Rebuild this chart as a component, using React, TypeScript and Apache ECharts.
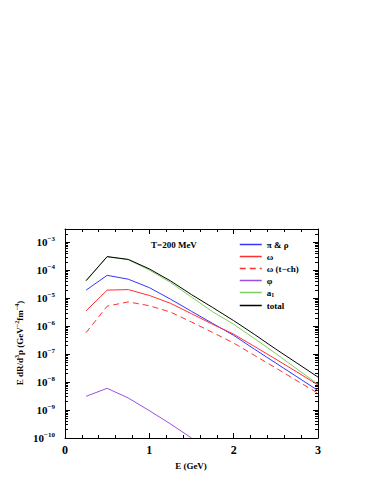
import React, { useEffect, useRef } from "react";
import * as echarts from "echarts";

const energies = [0.25, 0.5, 0.75, 1.0, 1.25, 1.5, 1.75, 2.0, 2.25, 2.5, 2.75, 3.0];
const piRho = [1.95e-5, 6.6e-5, 4.8e-5, 2.4e-5, 9.3e-6, 3.4e-6, 1.26e-6, 4.7e-7, 1.48e-7, 4.8e-8, 1.55e-8, 5.0e-9];
const omega = [3.55e-6, 1.95e-5, 2.04e-5, 1.26e-5, 6.6e-6, 2.8e-6, 1.17e-6, 5.2e-7, 1.86e-7, 6.6e-8, 2.3e-8, 7.9e-9];
const omegaT = [5.9e-7, 5.2e-6, 7.4e-6, 5.4e-6, 3.2e-6, 1.41e-6, 6.0e-7, 2.5e-7, 8.9e-8, 3.2e-8, 1.12e-8, 4.0e-9];
const phiE = [0.25, 0.5, 0.75, 1.0, 1.25, 1.5];
const phi = [3.1e-9, 6.0e-9, 2.7e-9, 9.5e-10, 3.2e-10, 1.0e-10];
const a1 = [4.17e-5, 3.02e-4, 2.4e-4, 1.02e-4, 3.7e-5, 1.1e-5, 3.3e-6, 1.17e-6, 3.55e-7, 1.05e-7, 2.95e-8, 8.3e-9];
const total = [4.27e-5, 3.09e-4, 2.45e-4, 1.12e-4, 4.2e-5, 1.35e-5, 4.68e-6, 1.58e-6, 5.0e-7, 1.51e-7, 4.79e-8, 1.51e-8];

const seriesNames = ["π & ρ", "ω", "ω (t−ch)", "φ", "a1", "total"];
const yDecades = [-10, -9, -8, -7, -6, -5, -4, -3];

const SERIF = "'Liberation Serif', 'DejaVu Serif', serif";

export default function App() {
  const ref = useRef<HTMLDivElement>(null);
  useEffect(() => {
    if (!ref.current) return;
    const chart = echarts.init(ref.current, undefined, { renderer: "svg" });
    const majorVals = yDecades.map((e) => Math.pow(10, e));
    const minorVals: number[] = [];
    yDecades.forEach((e) => {
      for (let k = 2; k <= 9; k++) {
        const v = k * Math.pow(10, e);
        if (v <= 3.001e-3) minorVals.push(v);
      }
    });
    const pair = (xs: number[], ys: number[]) => xs.map((x, i) => [x, ys[i]]);
    const yMin = 1e-10;
    const yMax = 3e-3;
    const baseY = (pos: "left" | "right", labels: boolean) => ({
      type: "log" as const,
      logBase: 10,
      min: yMin,
      max: yMax,
      position: pos,
      axisLine: { show: true, lineStyle: { color: "#000", width: 1 } },
      axisTick: { show: true, inside: true, length: 5, customValues: majorVals, lineStyle: { color: "#000" } },
      axisLabel: labels
        ? {
            show: true,
            customValues: majorVals,
            margin: 10,
            formatter: (v: number) => {
              const e = Math.round(Math.log10(v));
              return "{b|10}{e|" + (e < 0 ? "−" + -e : String(e)) + "}";
            },
            rich: {
              b: { fontFamily: SERIF, fontWeight: "bold", fontSize: 11, color: "#000", lineHeight: 14 },
              e: { fontFamily: SERIF, fontWeight: "bold", fontSize: 7, color: "#000", lineHeight: 8, verticalAlign: "top" },
            },
          }
        : { show: false },
      splitLine: { show: false },
      minorTick: { show: false },
    });
    const minorY = (pos: "left" | "right") => ({
      type: "log" as const,
      logBase: 10,
      min: yMin,
      max: yMax,
      position: pos,
      axisLine: { show: false },
      axisTick: { show: true, inside: true, length: 3, customValues: minorVals, lineStyle: { color: "#000" } },
      axisLabel: { show: false },
      splitLine: { show: false },
    });
    const baseX = (pos: "bottom" | "top", labels: boolean) => ({
      type: "value" as const,
      min: 0,
      max: 3,
      interval: 1,
      position: pos,
      axisLine: { show: true, onZero: false, lineStyle: { color: "#000", width: 1 } },
      axisTick: { show: true, inside: true, length: 5, lineStyle: { color: "#000" } },
      minorTick: { show: true, splitNumber: 5, length: 3, lineStyle: { color: "#000" } },
      axisLabel: labels
        ? { show: true, margin: 6, fontFamily: SERIF, fontWeight: "bold", fontSize: 12, color: "#000" }
        : { show: false },
      splitLine: { show: false },
    });
    const line = (name: string, data: number[][], color: string, dashed = false) => ({
      name,
      type: "line" as const,
      data,
      symbol: "none",
      xAxisIndex: 0,
      yAxisIndex: 0,
      lineStyle: { color, width: 1, type: dashed ? ([6, 4] as any) : "solid" },
      itemStyle: { color },
      clip: true,
    });
    chart.setOption({
      animation: false,
      backgroundColor: "#fff",
      grid: { left: 65, right: 65, top: 229, bottom: 57, containLabel: false },
      xAxis: [baseX("bottom", true), baseX("top", false)],
      yAxis: [baseY("left", true), minorY("left"), baseY("right", false), minorY("right")],
      legend: {
        orient: "vertical",
        left: 239,
        top: 240,
        itemWidth: 22,
        itemHeight: 8,
        itemGap: 3,
        padding: 0,
        data: seriesNames,
        lineStyle: { width: 1.5 },
        itemStyle: { opacity: 0, color: "transparent", borderWidth: 0 },
        formatter: (n: string) => (n === "a1" ? "{t|a}{s|1}" : "{t|" + n + "}"),
        textStyle: {
          rich: {
            t: { fontFamily: SERIF, fontWeight: "bold", fontSize: 9, color: "#000", lineHeight: 11 },
            s: { fontFamily: SERIF, fontWeight: "bold", fontSize: 6, color: "#000", lineHeight: 6, verticalAlign: "bottom" },
          },
        },
      },
      graphic: [
        {
          type: "text",
          left: 151,
          top: 240,
          style: { text: "T=200 MeV", font: "bold 9px " + SERIF, fill: "#000" },
        },
        {
          type: "text",
          x: 191,
          y: 466,
          style: { text: "E (GeV)", font: "bold 9px " + SERIF, fill: "#000", align: "center", verticalAlign: "middle" },
        },
        {
          type: "text",
          x: 20,
          y: 343,
          rotation: Math.PI / 2,
          style: {
            text: "{b|E dR/d}{e|3}{b|p (GeV}{e|−2}{b|fm}{e|−4}{b|)}",
            align: "center",
            verticalAlign: "middle",
            rich: {
              b: { fontFamily: SERIF, fontWeight: "bold", fontSize: 9, fill: "#000", lineHeight: 12 },
              e: { fontFamily: SERIF, fontWeight: "bold", fontSize: 6, fill: "#000", lineHeight: 7, verticalAlign: "top" },
            },
          },
        },
      ],
      series: [
        line("π & ρ", pair(energies, piRho), "#3535ff"),
        line("ω", pair(energies, omega), "#ff3030"),
        line("ω (t−ch)", pair(energies, omegaT), "#ff3030", true),
        line("φ", pair(phiE, phi), "#9a4fe0"),
        line("a1", pair(energies, a1), "#7ccf5c"),
        line("total", pair(energies, total), "#000000"),
      ],
    });
    return () => chart.dispose();
  }, []);
  return <div ref={ref} style={{ position: "absolute", left: 0, top: 0, width: 383, height: 495 }} />;
}
